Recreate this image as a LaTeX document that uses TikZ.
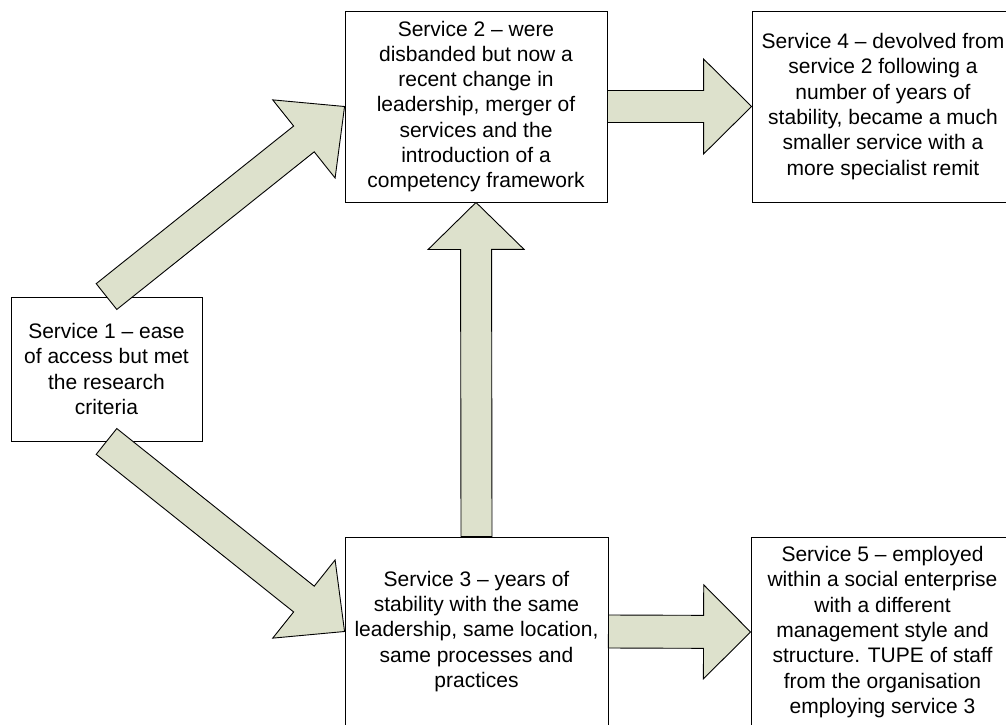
\documentclass[tikz,border=0pt]{standalone}
\usepackage{fontspec}
\setmainfont{Liberation Sans}
\usetikzlibrary{calc}
\definecolor{arrowfill}{RGB}{221,225,204}
\tikzset{
  box/.style={draw=black, line width=0.9pt, fill=white, inner sep=0pt, align=center,
    font=\fontsize{21}{25.3}\selectfont, text=black},
  blockarrow/.style={draw=black, line width=0.9pt, fill=arrowfill, line join=miter},
}
% #1 from, #2 to, #3 head length, #4 head half width, #5 shaft half width
\newcommand\blockarr[5]{%
  \coordinate (hb) at ($(#2)!#3!(#1)$);
  \draw[blockarrow] ($(#1)!#5!90:(#2)$) -- ($(hb)!#5!90:(#2)$) -- ($(hb)!#4!90:(#2)$)
    -- (#2) -- ($(hb)!#4!-90:(#2)$) -- ($(hb)!#5!-90:(#2)$) -- ($(#1)!#5!-90:(#2)$) -- cycle;
}
\begin{document}
\begin{tikzpicture}[x=1pt,y=-1pt]
\useasboundingbox (0,0) rectangle (1006,725);
\clip (0,0) rectangle (1006,725);
\fill[white] (0,0) rectangle (1006,725);

\node[box, minimum width=191pt, minimum height=144pt] (b1) at (106.5,369)
  {Service 1 – ease\\of access but met\\the research\\criteria};
\node[box, minimum width=262pt, minimum height=191pt] (b2) at (476,106.5)
  {Service 2 – were\\disbanded but now a\\recent change in\\leadership, merger of\\services and the\\introduction of a\\competency framework};
\node[box, minimum width=262pt, minimum height=191pt] (b4) at (883,106.5)
  {Service 4 – devolved from\\service 2 following a\\number of years of\\stability, became a much\\smaller service with a\\more specialist remit};
\node[box, minimum width=263pt, minimum height=189pt] (b3) at (476.5,631.5)
  {Service 3 – years of\\stability with the same\\leadership, same location,\\same processes and\\practices};
\node[box, minimum width=263pt, minimum height=189pt] (b5) at (882.5,632)
  {Service 5 – employed\\within a social enterprise\\with a different\\management style and\\structure. TUPE of staff\\from the organisation\\employing service 3};

\blockarr{b1.north}{b2.west}{52pt}{50pt}{16.5pt}
\blockarr{b1.south}{b3.west}{52pt}{50pt}{16.5pt}
\blockarr{b3.north}{b2.south}{47pt}{48pt}{15.5pt}
\blockarr{b2.east}{b4.west}{48pt}{47.5pt}{16pt}
\blockarr{b3.east}{b5.west}{47pt}{47pt}{16.5pt}
\end{tikzpicture}
\end{document}
